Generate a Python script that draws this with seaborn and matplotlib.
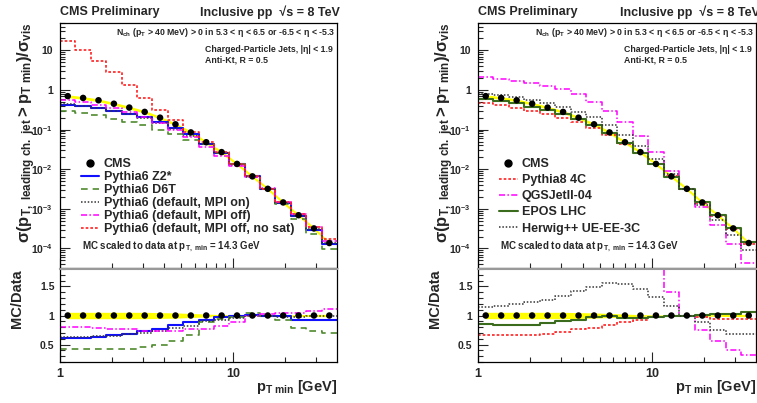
import numpy as np
import matplotlib
matplotlib.use("Agg")
import matplotlib.pyplot as plt
from matplotlib.lines import Line2D
from matplotlib.ticker import FixedLocator, FuncFormatter, NullFormatter, LogLocator, MultipleLocator
import seaborn as sns

# bin edges of p_T,min (GeV)
pt_edges = [1.0, 1.227, 1.506, 1.848, 2.268, 2.783, 3.415, 4.191, 5.143, 6.310,
            7.743, 9.502, 11.66, 14.31, 17.56, 21.54, 26.44, 32.44, 39.81]
pt_centers = [1.108, 1.359, 1.668, 2.047, 2.512, 3.083, 3.783, 4.643, 5.697, 6.990,
              8.577, 10.53, 12.92, 15.85, 19.45, 23.87, 29.29, 35.94]

# CMS measurement
cms_data = [0.70, 0.63, 0.55, 0.45, 0.36, 0.28, 0.20, 0.136, 0.085, 0.048,
            0.027, 0.0136, 0.0066, 0.0032, 0.00145, 6.9e-4, 3.2e-4, 1.37e-4]
syst_main = [0.08, 0.08, 0.08, 0.08, 0.08, 0.08, 0.08, 0.08, 0.08, 0.08,
             0.08, 0.08, 0.08, 0.08, 0.08, 0.08, 0.08, 0.08]
syst_ratio = [0.055, 0.055, 0.055, 0.055, 0.055, 0.055, 0.05, 0.045, 0.035, 0.025,
              0.015, 0.01, 0.006, 0.004, 0.01, 0.015, 0.02, 0.02]

# MC / data, left panel
z2star = [0.605, 0.617, 0.634, 0.657, 0.686, 0.726, 0.771, 0.83, 0.886, 0.92,
          0.966, 0.989, 1.01, 1.0, 0.99, 0.93, 0.92, 0.925]
d6t = [0.42, 0.42, 0.42, 0.42, 0.43, 0.455, 0.495, 0.56, 0.66, 0.88,
       0.94, 0.975, 1.05, 1.0, 0.92, 0.79, 0.73, 0.70]
mpi_on = [0.635, 0.635, 0.64, 0.65, 0.675, 0.70, 0.74, 0.78, 0.82, 0.90,
          0.93, 0.95, 0.99, 1.0, 0.98, 0.97, 0.99, 0.99]
mpi_off = [0.81, 0.80, 0.78, 0.77, 0.76, 0.74, 0.73, 0.73, 0.76, 0.77,
           0.82, 0.886, 0.99, 1.02, 1.05, 1.05, 1.07, 1.12]
mpi_off_nosat = [24.0, 16.5, 10.0, 6.5, 3.7, 2.3, 1.6, 1.25, 1.05, 1.0,
                 1.0, 1.0, 1.0, 1.0, 1.02, 1.05, 1.1, 1.24]

# MC / data, right panel
pythia8_4c = [0.657, 0.657, 0.657, 0.67, 0.68, 0.72, 0.76, 0.79, 0.835, 0.886,
              0.93, 0.97, 1.0, 1.0, 0.97, 0.94, 0.94, 0.94]
qgsjet = [3.1, 3.0, 3.1, 3.3, 3.5, 3.7, 3.9, 3.7, 3.5, 3.2,
          2.6, 2.0, 1.40, 1.0, 0.75, 0.555, 0.41, 0.32]
epos = [0.857, 0.84, 0.835, 0.845, 0.875, 0.90, 0.93, 0.966, 0.983, 0.96,
        0.96, 0.977, 0.99, 1.0, 1.01, 1.023, 1.034, 1.06]
herwig = [1.15, 1.17, 1.19, 1.235, 1.27, 1.34, 1.42, 1.49, 1.56, 1.55,
          1.46, 1.32, 1.17, 1.0, 0.88, 0.755, 0.69, 0.68]

sns.set_style("ticks")
plt.rcParams["font.family"] = ["Liberation Sans", "DejaVu Sans"]
plt.rcParams["font.weight"] = "bold"
plt.rcParams["axes.labelweight"] = "bold"
plt.rcParams["mathtext.fontset"] = "custom"
plt.rcParams["mathtext.rm"] = "Liberation Sans:bold"
plt.rcParams["mathtext.it"] = "Liberation Sans:bold"
plt.rcParams["mathtext.bf"] = "Liberation Sans:bold"
plt.rcParams["mathtext.default"] = "rm"

# (label, ratio values, color, linestyle, linewidth, shown in ratio panel)
left_models = [
    ("Pythia6 Z2*", z2star, "#1010ff", "-", 1.5, True),
    ("Pythia6 D6T", d6t, "#4f8a2e", (0, (4, 3)), 1.2, True),
    ("Pythia6 (default, MPI on)", mpi_on, "#333333", (0, (1, 1.2)), 1.1, True),
    ("Pythia6 (default, MPI off)", mpi_off, "#ff00ff", (0, (4, 1.5, 1, 1.5)), 1.1, True),
    ("Pythia6 (default, MPI off, no sat)", mpi_off_nosat, "#ff2020", (0, (1.6, 1.2)), 1.2, False),
]
right_models = [
    ("Pythia8 4C", pythia8_4c, "#ff2020", (0, (1.6, 1.2)), 1.2, True),
    ("QGSJetII-04", qgsjet, "#ff00ff", (0, (4, 1.5, 1, 1.5)), 1.1, True),
    ("EPOS LHC", epos, "#3b6b1c", "-", 1.5, True),
    ("Herwig++ UE-EE-3C", herwig, "#333333", (0, (1, 1.2)), 1.1, True),
]


def log_label(v, pos):
    if abs(v - 1) < 1e-9:
        return "1"
    if abs(v - 10) < 1e-9:
        return "10"
    return r"$10^{%d}$" % int(round(np.log10(v)))


def draw_steps(ax, vals, color, ls, lw):
    y = list(vals) + [vals[-1]]
    sns.lineplot(x=pt_edges, y=y, ax=ax, color=color, linestyle=ls, linewidth=lw,
                 drawstyle="steps-post", estimator=None, sort=False, legend=False)


def draw_panel(ax, axr, models, spacing):
    data = np.array(cms_data)
    for a in (ax, axr):
        a.set_xscale("log")
        a.set_xlim(1, 39.81)
        a.tick_params(which="both", direction="in", top=False, right=False, width=0.8)
        a.tick_params(which="major", length=7)
        a.tick_params(which="minor", length=3.5)
        for s in a.spines.values():
            s.set_linewidth(0.9)
            s.set_color("black")
    ax.set_yscale("log")
    ax.set_ylim(3.3e-5, 50)

    # yellow uncertainty band
    ax.fill_between(pt_centers, data * (1 - np.array(syst_main)), data * (1 + np.array(syst_main)),
                    color="#ffff00", lw=0, zorder=1)
    axr.fill_between(pt_centers, 1 - np.array(syst_ratio), 1 + np.array(syst_ratio),
                     color="#ffff00", lw=0, zorder=1)

    handles = [Line2D([], [], marker="o", ls="none", color="black", markersize=5)]
    labels = ["CMS"]
    for label, ratio, color, ls, lw, in_ratio in models:
        draw_steps(ax, data * np.array(ratio), color, ls, lw)
        if in_ratio:
            draw_steps(axr, ratio, color, ls, lw)
        handles.append(Line2D([], [], color=color, ls=ls, lw=lw))
        labels.append(label)

    sns.scatterplot(x=pt_centers, y=cms_data, ax=ax, color="black", s=22, edgecolor="none", zorder=5)
    sns.scatterplot(x=pt_centers, y=[1.0] * len(pt_centers), ax=axr, color="black", s=22,
                    edgecolor="none", zorder=5)

    # axes formatting
    ax.yaxis.set_major_locator(LogLocator(base=10, numticks=15))
    ax.yaxis.set_minor_locator(LogLocator(base=10, subs=np.arange(2, 10), numticks=15))
    ax.yaxis.set_major_formatter(FuncFormatter(log_label))
    ax.yaxis.set_minor_formatter(NullFormatter())
    ax.xaxis.set_major_formatter(NullFormatter())
    ax.xaxis.set_minor_formatter(NullFormatter())
    ax.tick_params(axis="y", labelsize=7.5, pad=5)

    axr.set_ylim(0.2, 1.8)
    axr.yaxis.set_major_locator(FixedLocator([0.5, 1.0, 1.5]))
    axr.yaxis.set_minor_locator(MultipleLocator(0.1))
    axr.yaxis.set_major_formatter(FuncFormatter(lambda v, p: "1" if v == 1 else "%g" % v))
    axr.xaxis.set_major_locator(FixedLocator([1, 10]))
    axr.xaxis.set_major_formatter(FuncFormatter(lambda v, p: "%d" % v))
    axr.xaxis.set_minor_formatter(NullFormatter())
    axr.tick_params(axis="y", labelsize=7.5, pad=4)
    axr.tick_params(axis="x", labelsize=9, pad=4)
    axr.spines["top"].set_color("#999999")
    axr.spines["top"].set_linewidth(1.5)

    ax.set_ylabel(r"$σ(p_{T,\ leading\ ch.\ jet} > p_{T\ min})/σ_{vis}$", loc="top", fontsize=12)
    ax.yaxis.set_label_coords(-0.08, 1.0)
    axr.set_ylabel("MC/Data", loc="top", fontsize=10.5)
    axr.yaxis.set_label_coords(-0.13, 1.0)
    axr.set_xlabel(r"p$_{T\ min}$ [GeV]", loc="right", fontsize=10.5, labelpad=-1)

    # texts
    ax.text(0.0, 1.044, "CMS Preliminary", transform=ax.transAxes, fontsize=9, va="center", ha="left")
    ax.text(1.012, 1.044, "Inclusive pp  √s = 8 TeV", transform=ax.transAxes, fontsize=9,
            va="center", ha="right")
    ax.text(0.993, 0.958, r"N$_{ch}$ (p$_{T}$ > 40 MeV) > 0 in 5.3 < η < 6.5 or -6.5 < η < -5.3",
            transform=ax.transAxes, fontsize=6.3, va="center", ha="right")
    ax.text(0.525, 0.8925, "Charged-Particle Jets, |η| < 1.9", transform=ax.transAxes, fontsize=6.3,
            va="center", ha="left")
    ax.text(0.525, 0.8477, "Anti-Kt, R = 0.5", transform=ax.transAxes, fontsize=6.3,
            va="center", ha="left")
    ax.text(0.08, 0.0837, r"MC scaled to data at p$_{T,\ min}$ = 14.3 GeV", transform=ax.transAxes,
            fontsize=7, va="center", ha="left")

    ax.legend(handles, labels, loc="upper left", bbox_to_anchor=(0.077, 0.447), frameon=False,
              fontsize=9, handlelength=1.45, handletextpad=0.35, borderpad=0, borderaxespad=0,
              labelspacing=spacing)


fig = plt.figure(figsize=(7.57, 4.03), dpi=100)
ax_l = fig.add_axes([0.0793, 0.3362, 0.3659, 0.6075])
axr_l = fig.add_axes([0.0793, 0.1017, 0.3659, 0.2308])
ax_r = fig.add_axes([0.6314, 0.3362, 0.3679, 0.6075])
axr_r = fig.add_axes([0.6314, 0.1017, 0.3679, 0.2308])

draw_panel(ax_l, axr_l, left_models, 0.08)
draw_panel(ax_r, axr_r, right_models, 0.33)

fig.savefig("out.png", dpi=100)
